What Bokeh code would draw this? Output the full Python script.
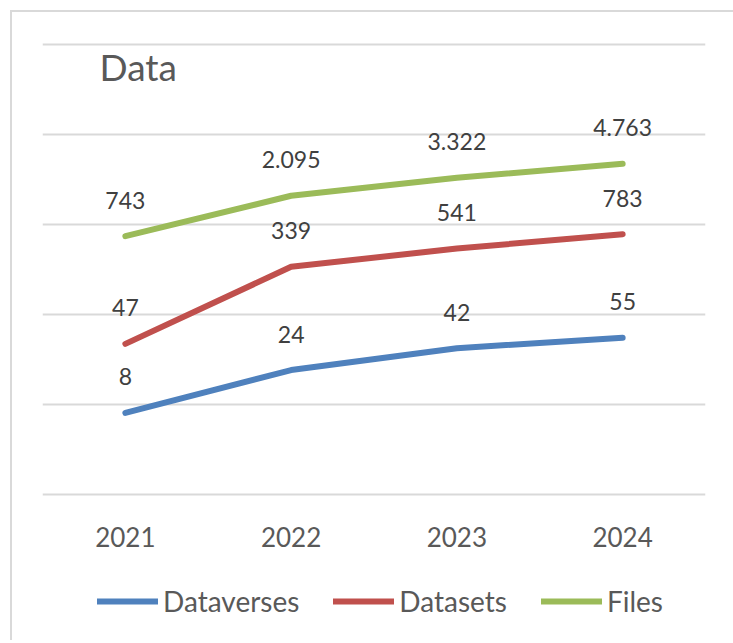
from bokeh.plotting import figure
from bokeh.layouts import column
from bokeh.models import (FactorRange, Range1d, FixedTicker, Legend, LegendItem,
                          Label, ColumnDataSource)
from bokeh.core.properties import value
from bokeh.embed import file_html
from bokeh.resources import INLINE

years = ["2021", "2022", "2023", "2024"]
dataverses = [8, 24, 42, 55]
datasets = [47, 339, 541, 783]
files = [743, 2095, 3322, 4763]
series_names = ["Dataverses", "Datasets", "Files"]
colors = ["#4F81BD", "#C0504D", "#9BBB59"]
grid_ticks = [1, 10, 100, 1000, 10000, 100000]

FONT = "Lato"

def fmt(v):
    return f"{v:,}".replace(",", ".")

pad = 10 ** 0.05
xr = FactorRange(factors=years, range_padding=0)
p = figure(x_range=xr,
           y_range=Range1d(grid_ticks[0] / pad, grid_ticks[-1] * pad), y_axis_type="log",
           width=721, height=556, output_backend="svg", toolbar_location=None,
           min_border_left=30, min_border_right=28, min_border_top=28,
           min_border_bottom=70)
p.title.visible = False
p.outline_line_color = None
p.background_fill_color = "white"
p.border_fill_color = "white"

p.yaxis.visible = False
p.xgrid.visible = False
p.ygrid.ticker = FixedTicker(ticks=grid_ticks)
p.ygrid.grid_line_color = "#d9d9d9"
p.ygrid.grid_line_width = 2
p.ygrid.minor_grid_line_color = None

ax = p.xaxis[0]
ax.axis_line_color = None
ax.major_tick_line_color = None
ax.minor_tick_line_color = None
ax.major_label_text_font = FONT
ax.major_label_text_font_size = "26px"
ax.major_label_text_color = "#595959"
ax.major_label_standoff = 22

sources = []
for vals, col in zip([dataverses, datasets, files], colors):
    src = ColumnDataSource(dict(x=years, y=vals, t=[fmt(v) for v in vals]))
    sources.append(src)
    p.line("x", "y", source=src, line_color=col, line_width=6,
           line_cap="round", line_join="round")
    p.text("x", "y", text="t", source=src, text_font=value(FONT),
           text_font_size="23px", text_color="#404040", text_align="center",
           text_baseline="middle", y_offset=-36)

title = Label(x=57, y=432, x_units="screen", y_units="screen", text="Data",
              text_font=FONT, text_font_size="37px", text_color="#595959",
              text_baseline="alphabetic")
p.add_layout(title)

# legend strip (series drawn out of its visible range; only the legend shows)
q = figure(x_range=xr, y_range=Range1d(-1, 0), width=721, height=72,
           output_backend="svg", toolbar_location=None,
           min_border_left=0, min_border_right=0, min_border_top=0, min_border_bottom=0)
q.title.visible = False
q.xaxis.visible = False
q.yaxis.visible = False
q.grid.visible = False
q.outline_line_color = None
q.border_fill_color = "white"
items = []
for name, col, src in zip(series_names, colors, sources):
    r = q.line("x", "y", source=src, line_color=col, line_width=6, line_cap="round")
    items.append(LegendItem(label=name, renderers=[r]))
legend = Legend(items=items, orientation="horizontal", location=(55, 22),
                glyph_width=61, glyph_height=30, label_standoff=5, spacing=34,
                padding=0, margin=0, border_line_color=None,
                background_fill_alpha=0, label_text_font=FONT,
                label_text_font_size="28px", label_text_color="#595959")
q.add_layout(legend, "center")

layout = column(p, q, spacing=0)
layout.margin = (10, 0, 0, 10)
layout.styles = {"border-top": "2px solid #d9d9d9", "border-left": "2px solid #d9d9d9"}

open("out.html", "w").write(file_html(layout, INLINE))
